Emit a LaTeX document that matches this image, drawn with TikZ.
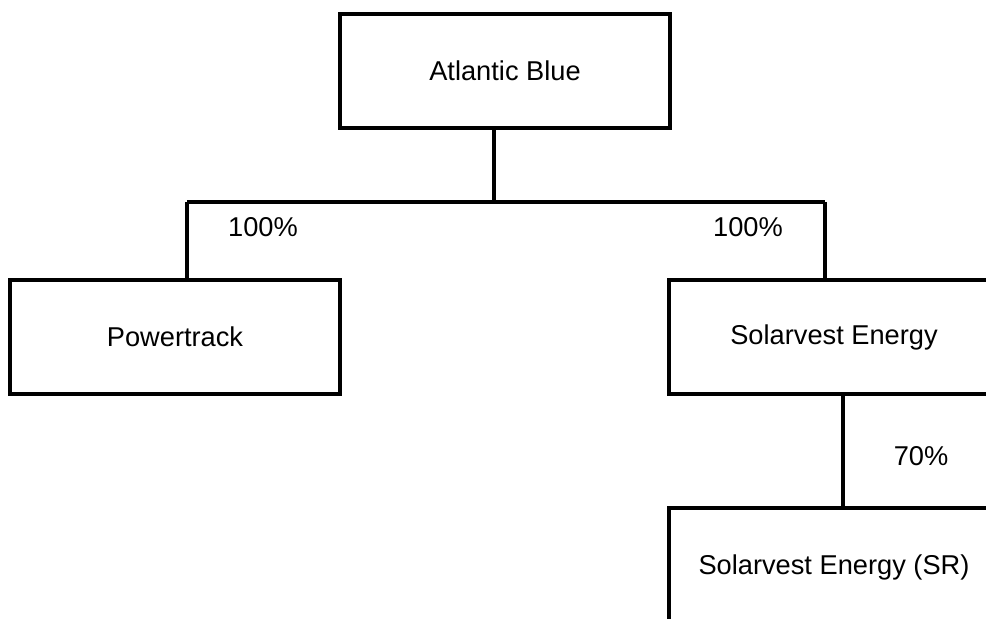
\documentclass[tikz,border=0pt]{standalone}
\usepackage{fontspec}
\setmainfont{Liberation Sans}
\usetikzlibrary{positioning}

\begin{document}
\begin{tikzpicture}[x=0.02cm,y=-0.02cm,line width=1.9pt,
    firm/.style = {draw, rectangle, minimum width=6.6cm, minimum height=2.28cm, font=\fontsize{15.5}{18}\selectfont},
    share/.style = {font=\fontsize{15.5}{18}\selectfont}]
        \useasboundingbox (0,0) rectangle (986,618);
        \node[firm] (atl) at (505,71) {Atlantic Blue};
        \node[firm] (power) at (175,337) {Powertrack};
        \node[firm] (solar) at (834,337) {Solarvest Energy};
        \node[firm, minimum height=2.36cm] (sr) at (834,567) {Solarvest Energy (SR)};
        \coordinate (split) at (494,202);
        \coordinate (lft) at (187,202);
        \coordinate (rgt) at (825,202);
        \coordinate (drop) at (843,450);
        \node[share] (pct1) at (263,227) {100\%};
        \node[share] (pct2) at (748,227) {100\%};
        \node[share] (pct3) at (921,456) {70\%};
        \draw (atl.south -| split) -- (split);
        \draw (lft) -- (rgt);
        \draw (lft) -- (lft |- power.north);
        \draw (rgt) -- (rgt |- solar.north);
        \draw (solar.south -| drop) -- (sr.north -| drop);
      \end{tikzpicture}
\end{document}
